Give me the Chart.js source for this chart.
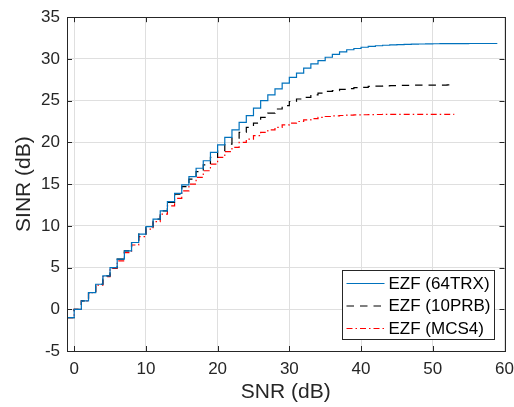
<!DOCTYPE html>
<html>
<head>
<meta charset="utf-8">
<script src="https://cdn.jsdelivr.net/npm/chart.js@4.4.1/dist/chart.umd.min.js"></script>
<style>
  html, body { margin: 0; padding: 0; background: #fff; }
  #wrap { width: 514px; height: 407px; }
</style>
</head>
<body>
<div id="wrap"><canvas id="c" width="514" height="407"></canvas></div>
<script>
/* ===== data (SNR in dB -> SINR in dB) ===== */
const snrLong = [-1, 0, 1, 2, 3, 4, 5, 6, 7, 8, 9, 10, 11, 12, 13, 14, 15, 16, 17, 18, 19,
  20, 21, 22, 23, 24, 25, 26, 27, 28, 29, 30, 31, 32, 33, 34, 35, 36, 37, 38, 39,
  40, 41, 42, 43, 44, 45, 46, 47, 48, 49, 50, 51, 52, 53, 54, 55, 56, 57, 58, 59];
const snrShort = [-1, 0, 1, 2, 3, 4, 5, 6, 7, 8, 9, 10, 11, 12, 13, 14, 15, 16, 17, 18, 19,
  20, 21, 22, 23, 24, 25, 26, 27, 28, 29, 30, 31, 32, 33, 34, 35, 36, 37, 38, 39,
  40, 41, 42, 43, 44, 45, 46, 47, 48, 49, 50, 51, 52, 53];

const sinr64TRX = [-1, 0, 1, 2, 3, 4, 5, 6, 7, 8, 9, 9.9, 10.8, 11.8, 12.9, 13.9, 14.9, 15.9, 16.9, 17.8, 18.8,
  19.7, 20.6, 21.5, 22.4, 23.2, 24.1, 25.0, 25.7, 26.4, 27.1, 27.8, 28.3, 28.9, 29.4, 29.8, 30.2, 30.55, 30.85, 31.1, 31.25,
  31.4, 31.5, 31.58, 31.64, 31.69, 31.72, 31.75, 31.77, 31.79, 31.8, 31.82, 31.83, 31.83, 31.84, 31.84, 31.85, 31.85, 31.85, 31.85, 31.85];
const sinr10PRB = [-1, 0, 1, 2, 3, 4, 5, 6, 7, 8, 9, 9.9, 10.8, 11.8, 12.8, 13.8, 14.7, 15.6, 16.5, 17.3, 18.2,
  19.0, 19.8, 20.5, 21.2, 21.8, 22.3, 23.0, 23.5, 24.0, 24.4, 24.9, 25.2, 25.4, 25.7, 25.9, 26.1, 26.2, 26.35, 26.45, 26.55,
  26.6, 26.7, 26.75, 26.78, 26.8, 26.82, 26.84, 26.85, 26.86, 26.86, 26.87, 26.87, 26.88, 26.88];
const sinrMCS4 = [-1, 0, 1, 2, 2.9, 3.9, 4.9, 5.8, 6.8, 7.7, 8.7, 9.6, 10.5, 11.4, 12.4, 13.3, 14.2, 15.0, 15.8, 16.6, 17.4,
  18.2, 18.9, 19.4, 20.0, 20.4, 20.8, 21.2, 21.5, 21.8, 22.1, 22.3, 22.5, 22.7, 22.85, 23.0, 23.1, 23.17, 23.22, 23.26, 23.29,
  23.31, 23.33, 23.34, 23.35, 23.36, 23.36, 23.36, 23.36, 23.36, 23.36, 23.36, 23.36, 23.36, 23.36];

const seriesNames = ["EZF (64TRX)", "EZF (10PRB)", "EZF (MCS4)"];
const xTicks = [0, 10, 20, 30, 40, 50, 60];
const yTicks = [-5, 0, 5, 10, 15, 20, 25, 30, 35];

/* ===== helpers ===== */
const FONT = "'Liberation Sans', Arial, Helvetica, sans-serif";
const INK = "#262626";

function toPoints(xs, ys) {
  return xs.map((x, i) => ({ x: x, y: ys[i] }));
}

/* box, inward ticks and legend, MATLAB style */
const matlabFrame = {
  id: "matlabFrame",
  afterDraw(chart) {
    const ctx = chart.ctx;
    const a = chart.chartArea;
    const xs = chart.scales.x, ys = chart.scales.y;
    const tl = 5;
    ctx.save();
    ctx.strokeStyle = INK;
    ctx.lineWidth = 1;
    ctx.beginPath();
    xTicks.forEach(v => {
      const px = Math.round(xs.getPixelForValue(v)) + 0.5;
      ctx.moveTo(px, a.bottom); ctx.lineTo(px, a.bottom - tl);
      ctx.moveTo(px, a.top); ctx.lineTo(px, a.top + tl);
    });
    yTicks.forEach(v => {
      const py = Math.round(ys.getPixelForValue(v)) + 0.5;
      ctx.moveTo(a.left, py); ctx.lineTo(a.left + tl, py);
      ctx.moveTo(a.right, py); ctx.lineTo(a.right - tl, py);
    });
    ctx.stroke();
    ctx.strokeRect(Math.round(a.left) + 0.5, Math.round(a.top) + 0.5,
      Math.round(a.right - a.left), Math.round(a.bottom - a.top));

    // legend box in the lower right corner
    const lw = 152, lh = 69;
    const lx = Math.round(a.right - 11 - lw) + 0.5;
    const ly = Math.round(a.bottom - 12 - lh) + 0.5;
    ctx.fillStyle = "#fff";
    ctx.fillRect(lx, ly, lw, lh);
    ctx.strokeRect(lx, ly, lw, lh);
    ctx.font = "17px " + FONT;
    ctx.textBaseline = "middle";
    chart.data.datasets.forEach((ds, i) => {
      const cy = ly + 13 + i * 22.5;
      ctx.save();
      ctx.strokeStyle = ds.borderColor;
      ctx.lineWidth = ds.borderWidth;
      ctx.setLineDash(ds.borderDash || []);
      ctx.beginPath();
      ctx.moveTo(lx + 4, cy); ctx.lineTo(lx + 42, cy);
      ctx.stroke();
      ctx.restore();
      ctx.fillStyle = "#000";
      ctx.fillText(ds.label, lx + 46, cy + 0.5);
    });
    ctx.restore();
  }
};

/* ===== chart ===== */
new Chart(document.getElementById("c"), {
  type: "line",
  data: {
    datasets: [
      {
        label: seriesNames[0],
        data: toPoints(snrLong, sinr64TRX),
        borderColor: "#0072BD",
        borderWidth: 1.2,
        stepped: "before",
        pointRadius: 0,
        fill: false
      },
      {
        label: seriesNames[1],
        data: toPoints(snrShort, sinr10PRB),
        borderColor: "#000000",
        borderWidth: 1.2,
        borderDash: [7.5, 6],
        stepped: "before",
        pointRadius: 0,
        fill: false
      },
      {
        label: seriesNames[2],
        data: toPoints(snrShort, sinrMCS4),
        borderColor: "#FF0000",
        borderWidth: 1.2,
        borderDash: [6, 3, 1.5, 3],
        stepped: "before",
        pointRadius: 0,
        fill: false
      }
    ]
  },
  options: {
    responsive: false,
    animation: false,
    layout: { padding: { left: 0, right: 0, top: 16, bottom: 0 } },
    plugins: { legend: { display: false }, tooltip: { enabled: false } },
    scales: {
      x: {
        type: "linear",
        min: -1,
        max: 60,
        afterBuildTicks: s => { s.ticks = xTicks.map(v => ({ value: v })); },
        afterFit: s => { s.height = 56; s.paddingLeft = 0; s.paddingRight = 9.5; },
        ticks: { color: INK, padding: 8, maxRotation: 0, font: { family: FONT, size: 17 } },
        grid: { color: "#dfdfdf", drawTicks: false },
        border: { display: false },
        title: {
          display: true, text: "SNR (dB)", color: INK,
          font: { family: FONT, size: 21 }, padding: { top: 0, bottom: 2 }
        }
      },
      y: {
        type: "linear",
        min: -5,
        max: 35,
        afterBuildTicks: s => { s.ticks = yTicks.map(v => ({ value: v })); },
        afterFit: s => { s.width = 67; },
        ticks: { color: INK, padding: 7, font: { family: FONT, size: 17 } },
        grid: { color: "#dfdfdf", drawTicks: false },
        border: { display: false },
        title: {
          display: true, text: "SINR (dB)", color: INK,
          font: { family: FONT, size: 21 }, padding: { top: 12, bottom: 0 }
        }
      }
    }
  },
  plugins: [matlabFrame]
});
</script>
</body>
</html>
